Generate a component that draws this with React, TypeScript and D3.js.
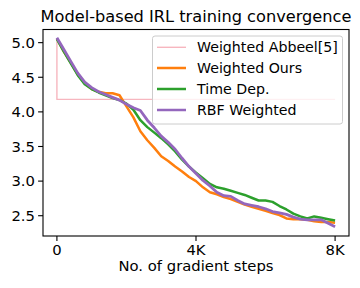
import React from "react";
import * as d3 from "d3";

const steps = [0,200,400,600,800,1000,1200,1400,1600,1800,2000,2200,2400,2600,2800,3000,3200,3400,3600,3800,4000,4200,4400,4600,4800,5000,5200,5400,5600,5800,6000,6200,6400,6600,6800,7000,7200,7400,7600,7800,8000];
const weightedOurs = [5.06,4.87,4.71,4.54,4.41,4.33,4.29,4.27,4.27,4.24,4.08,3.92,3.72,3.59,3.48,3.36,3.29,3.21,3.14,3.06,3.00,2.91,2.84,2.81,2.77,2.74,2.70,2.66,2.63,2.60,2.57,2.54,2.51,2.46,2.45,2.45,2.44,2.42,2.41,2.41,2.40];
const timeDep = [5.05,4.87,4.70,4.53,4.40,4.33,4.28,4.24,4.20,4.17,4.12,4.03,3.88,3.78,3.70,3.62,3.53,3.43,3.31,3.21,3.12,3.04,2.96,2.91,2.89,2.86,2.83,2.80,2.76,2.72,2.72,2.70,2.64,2.59,2.53,2.49,2.46,2.49,2.47,2.45,2.43];
const rbfWeighted = [5.07,4.90,4.73,4.56,4.43,4.35,4.29,4.25,4.21,4.17,4.11,4.06,4.02,3.88,3.77,3.65,3.56,3.46,3.33,3.21,3.11,3.01,2.93,2.84,2.79,2.78,2.72,2.67,2.65,2.63,2.60,2.56,2.54,2.52,2.48,2.45,2.44,2.44,2.44,2.39,2.34];
const abbeelSteps = [0, 0, 8000];
const abbeelValues = [5.05, 4.18, 4.18];

const xTicks = [0, 4000, 8000];
const xTickLabels = ["0", "4K", "8K"];
const yTicks = [2.5, 3.0, 3.5, 4.0, 4.5, 5.0];

const seriesNames = ["Weighted Abbeel[5]", "Weighted Ours", "Time Dep.", "RBF Weighted"];
const seriesColors = ["#f7b6bf", "#ff7f0e", "#2ca02c", "#9467bd"];

const FONT = "DejaVu Sans";

export default function App() {
  const W = 360, H = 288;
  const left = 43, right = 349, top = 29.5, bottom = 236;
  const x = d3.scaleLinear().domain([-400, 8400]).range([left, right]);
  const y = d3.scaleLinear().domain([2.207, 5.19]).range([bottom, top]);
  const line = d3.line<[number, number]>().x(d => x(d[0])).y(d => y(d[1])).curve(d3.curveLinear);
  const mk = (vals: number[], xs: number[] = steps) => line(xs.map((s, i) => [s, vals[i]] as [number, number])) || "";

  const lg = { x: 152.5, y: 36, w: 190, h: 88 };
  const rowYs = [47.3, 68, 89, 110];

  return (
    <div style={{ margin: -8 }}>
      <svg width={W} height={H} style={{ display: "block", background: "#fff" }}>
        <rect width={W} height={H} fill="#fff" />
        <defs>
          <clipPath id="plotclip">
            <rect x={left} y={top} width={right - left} height={bottom - top} />
          </clipPath>
        </defs>
        <g clipPath="url(#plotclip)" fill="none" strokeLinejoin="round" strokeLinecap="butt">
          <path d={mk(abbeelValues, abbeelSteps)} stroke={seriesColors[0]} strokeWidth={1.4} />
          <path d={mk(weightedOurs)} stroke={seriesColors[1]} strokeWidth={2.5} />
          <path d={mk(timeDep)} stroke={seriesColors[2]} strokeWidth={2.5} />
          <path d={mk(rbfWeighted)} stroke={seriesColors[3]} strokeWidth={2.8} />
        </g>
        {/* spines */}
        <rect x={left} y={top} width={right - left} height={bottom - top} fill="none" stroke="#000" strokeWidth={1.1} />
        {/* y ticks */}
        {yTicks.map(t => (
          <g key={t}>
            <line x1={left - 4.9} x2={left} y1={y(t)} y2={y(t)} stroke="#000" strokeWidth={1.1} />
            <text x={left - 8} y={y(t)} dy="0.36em" textAnchor="end" fontFamily={FONT} fontSize={14.8}>{t.toFixed(1)}</text>
          </g>
        ))}
        {/* x ticks */}
        {xTicks.map((t, i) => (
          <g key={t}>
            <line x1={x(t)} x2={x(t)} y1={bottom} y2={bottom + 4.9} stroke="#000" strokeWidth={1.1} />
            <text x={x(t)} y={bottom + 18.5} textAnchor="middle" fontFamily={FONT} fontSize={14.8}>{xTickLabels[i]}</text>
          </g>
        ))}
        <text x={(left + right) / 2} y={271} textAnchor="middle" fontFamily={FONT} fontSize={14.8}>No. of gradient steps</text>
        <text x={(left + right) / 2} y={22} textAnchor="middle" fontFamily={FONT} fontSize={16.2}>Model-based IRL training convergence</text>
        {/* legend */}
        <rect x={lg.x} y={lg.y} width={lg.w} height={lg.h} rx={2.5} fill="#fff" fillOpacity={0.8} stroke="#cccccc" strokeWidth={1} />
        {seriesNames.map((n, i) => (
          <g key={n}>
            <line x1={157} x2={186} y1={rowYs[i]} y2={rowYs[i]} stroke={seriesColors[i]} strokeWidth={i === 0 ? 1.4 : 2.5} />
            <text x={197} y={rowYs[i]} dy="0.36em" fontFamily={FONT} fontSize={14.2}>{n}</text>
          </g>
        ))}
      </svg>
    </div>
  );
}
